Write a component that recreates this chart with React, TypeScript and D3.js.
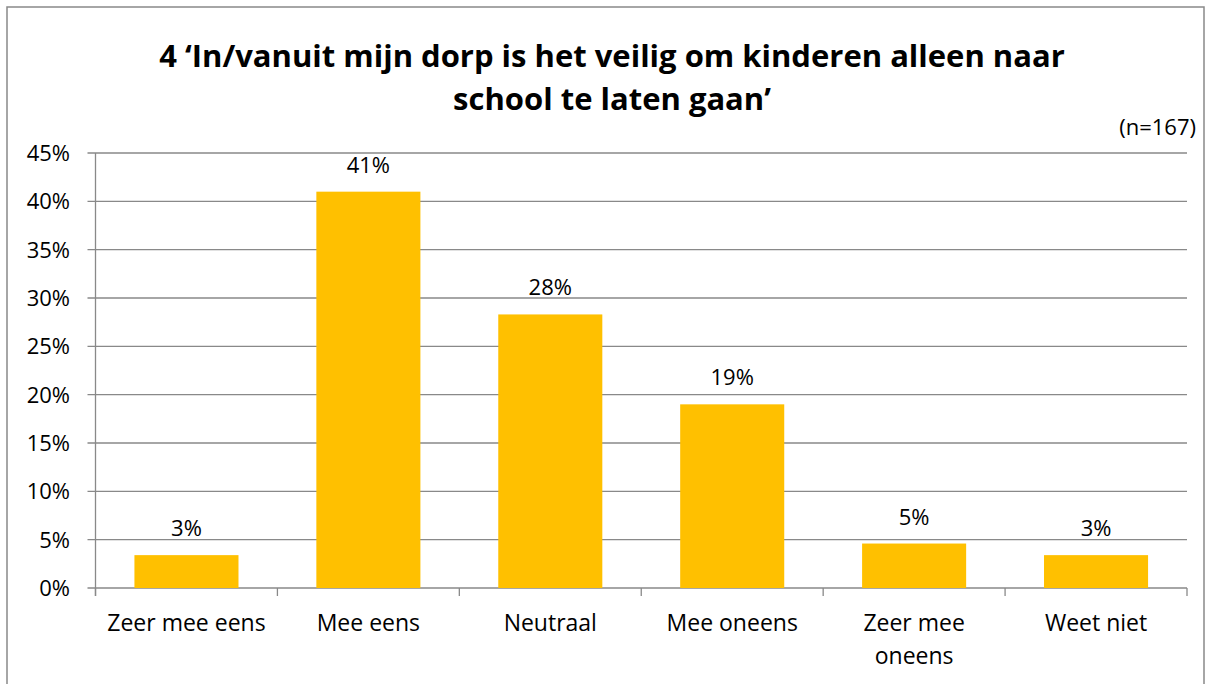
import React from 'react';
import * as d3 from 'd3';

const categories = ['Zeer mee eens', 'Mee eens', 'Neutraal', 'Mee oneens', 'Zeer mee oneens', 'Weet niet'];
const categoryLines = [['Zeer mee eens'], ['Mee eens'], ['Neutraal'], ['Mee oneens'], ['Zeer mee', 'oneens'], ['Weet niet']];
const values = [3.4, 41.0, 28.3, 19.0, 4.6, 3.4];
const valueLabels = ['3%', '41%', '28%', '19%', '5%', '3%'];
const yTickValues = [0, 5, 10, 15, 20, 25, 30, 35, 40, 45];
const titleLines = ['4 \u2018In/vanuit mijn dorp is het veilig om kinderen alleen naar', 'school te laten gaan\u2019'];
const note = '(n=167)';

const font = '"Open Sans", Lato, sans-serif';

export default function App() {
    const width = 1212;
    const height = 684;
    const margin = {t: 153, b: 96, r: 25, l: 95.5};

    const x = d3.scaleBand()
        .domain(categories)
        .range([margin.l, width - margin.r])
        .paddingInner(0.428)
        .paddingOuter(0.214);

    const y = d3.scaleLinear()
        .domain([0, 45])
        .range([height - margin.b, margin.t]);

    const step = x.step();
    const gridColor = '#898989';
    const mid = (c: string) => (x(c) || 0) + x.bandwidth() / 2;

    return (
        <svg width={width} height={height} style={{position: 'absolute', left: 0, top: 0, background: '#fff'}}
             fontFamily={font}>
            <rect x={7} y={7} width={1197} height={700} fill="#fff" stroke={gridColor} strokeWidth={1.5}/>

            <g textAnchor="middle" fontWeight="bold" fontSize={31} fill="#000">
                {titleLines.map((t, i) => <text key={i} x={612} y={67 + i * 43}>{t}</text>)}
            </g>
            <text x={1196} y={135} textAnchor="end" fontSize={22}>{note}</text>

            {/* y gridlines + labels */}
            {yTickValues.map(d => (
                <g key={d} transform={`translate(0,${y(d)})`}>
                    <line x1={margin.l - 8} x2={width - margin.r} y1={0} y2={0} stroke={gridColor} strokeWidth={1.3}/>
                    <text x={70} y={8} textAnchor="end" fontSize={22}>{d + '%'}</text>
                </g>
            ))}
            <line x1={margin.l} x2={margin.l} y1={margin.t} y2={y(0) + 8} stroke={gridColor} strokeWidth={1.3}/>

            {/* category ticks */}
            {d3.range(categories.length + 1).map(i => (
                <line key={i} x1={margin.l + i * step} x2={margin.l + i * step} y1={y(0)} y2={y(0) + 8}
                      stroke={gridColor} strokeWidth={1.3}/>
            ))}

            {/* bars */}
            {values.map((v, i) => (
                <rect key={categories[i]} x={x(categories[i])} y={y(v)} width={x.bandwidth()} height={y(0) - y(v)}
                      fill="#FFC000"/>
            ))}
            {values.map((v, i) => (
                <text key={'l' + i} x={mid(categories[i])} y={y(v) - 19}
                      textAnchor="middle" fontSize={22}>{valueLabels[i]}</text>
            ))}

            {/* category labels */}
            {categoryLines.map((lines, i) => (
                <text key={'c' + i} x={mid(categories[i])} y={631} textAnchor="middle" fontSize={23}>
                    {lines.map((l, j) => <tspan key={j} x={mid(categories[i])} dy={j === 0 ? 0 : 33}>{l}</tspan>)}
                </text>
            ))}
        </svg>
    );
}
